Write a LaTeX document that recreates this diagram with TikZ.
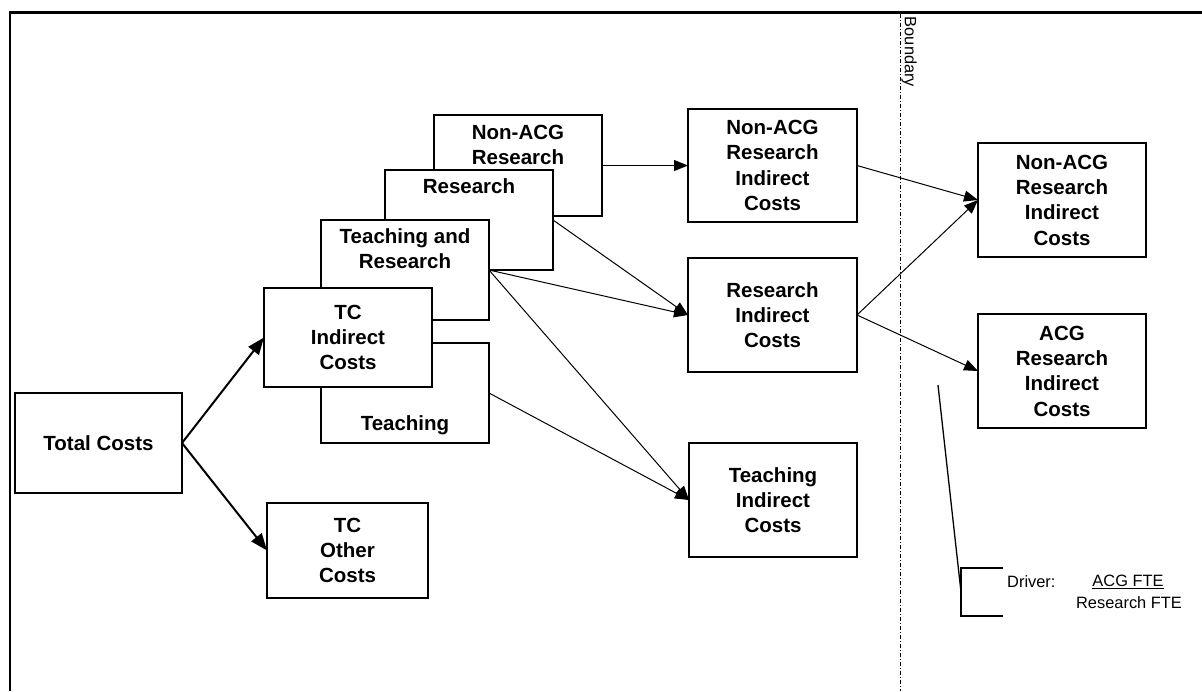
\documentclass[tikz,border=0pt]{standalone}
\usepackage{fontspec}
\setmainfont{Liberation Sans}
\usetikzlibrary{arrows.meta}
\newcommand{\boxfont}{\fontsize{20.5}{25.3}\selectfont\bfseries}
\newcommand{\notefont}{\fontsize{16.4}{20}\selectfont}
\begin{document}
\begin{tikzpicture}[x=1pt,y=-1pt,
  box/.style={draw, line width=2pt, fill=white, inner sep=0pt, outer sep=0pt, align=center, font=\boxfont},
  lbl/.style={inner sep=0pt, align=center, font=\boxfont},
  bigarrow/.style={line width=2pt, -{Triangle[length=17pt,width=13pt]}},
  thinarrow/.style={line width=1pt, -{Triangle[length=14pt,width=11pt]}},
  note/.style={inner sep=0pt, font=\notefont},
  frameline/.style={line width=2.5pt},
  boundaryline/.style={line width=0.8pt, dash pattern=on 4pt off 2pt on 1pt off 2pt},
  callout/.style={line width=1.3pt}]
\useasboundingbox (0,0) rectangle (1202,691);

% frame
\coordinate (fbl) at (10,691);
\coordinate (ftl) at (10,12.5);
\coordinate (ftr) at (1202,12.5);
\draw[frameline] (fbl) -- (ftl) -- (ftr);

% boundary
\coordinate (bt) at (900,14);
\coordinate (bb) at (900,691);
\draw[boundaryline] (bt) -- (bb);
\node[note, rotate=-90] (blabel) at (909,52) {Boundary};

% left column
\node[box, minimum width=167pt, minimum height=100pt] (total) at (98.5,443) {Total Costs};
\node[box, minimum width=161pt, minimum height=95pt] (tcother) at (347.5,550.5) {TC\\Other\\Costs};

% stacked boxes (back to front)
\node[box, minimum width=168pt, minimum height=101pt] (snonacg) at (518,165.5) {};
\node[lbl] (snonacgt) at (518,145) {Non-ACG\\Research};
\node[box, minimum width=168pt, minimum height=100pt] (sres) at (469,220) {};
\node[lbl] (srest) at (469,186) {Research};
\node[box, minimum width=168pt, minimum height=100pt] (str) at (405,270) {};
\node[lbl] (strt) at (405,249) {Teaching and\\Research};
\node[box, minimum width=168pt, minimum height=100pt] (steach) at (405,393) {};
\node[lbl] (steacht) at (405,425) {Teaching};
\node[box, minimum width=168pt, minimum height=99pt] (tcind) at (348,337.5) {TC\\Indirect\\Costs};

% middle column
\node[box, minimum width=169pt, minimum height=113pt] (mnon) at (772.5,165.5) {Non-ACG\\Research\\Indirect\\Costs};
\node[box, minimum width=169pt, minimum height=114pt] (mres) at (772.5,315) {Research\\Indirect\\Costs};
\node[box, minimum width=168pt, minimum height=114pt] (mteach) at (773,500) {Teaching\\Indirect\\Costs};

% right column
\node[box, minimum width=168pt, minimum height=114pt] (rnon) at (1062,200) {Non-ACG\\Research\\Indirect\\Costs};
\node[box, minimum width=168pt, minimum height=114pt] (racg) at (1062,371) {ACG\\Research\\Indirect\\Costs};

% connectors
\draw[bigarrow] (total.east) -- (tcind.west);
\draw[bigarrow] (total.east) -- (tcother.west);
\draw[thinarrow] (snonacg.east) -- (mnon.west);
\draw[thinarrow] (sres.east) -- (mres.west);
\draw[thinarrow] (str.east) -- (mres.west);
\draw[thinarrow] (str.east) -- (mteach.west);
\draw[thinarrow] (steach.east) -- (mteach.west);
\draw[thinarrow] (mnon.east) -- (rnon.west);
\draw[thinarrow] (mres.east) -- (rnon.west);
\draw[thinarrow] (mres.east) -- (racg.west);

% driver callout
\coordinate (c1) at (938,385);
\coordinate (c2) at (961,592);
\coordinate (k1) at (1003,568);
\coordinate (k2) at (961,568);
\coordinate (k3) at (961,616);
\coordinate (k4) at (1003,616);
\draw[callout] (c1) -- (c2);
\draw[callout] (k1) -- (k2) -- (k3) -- (k4);
\node[note, anchor=west] (drv) at (1007,582) {Driver:};
\node[note] (acgfte) at (1128,582) {\underline{ACG FTE}};
\node[note] (resfte) at (1129,603) {Research FTE};
\end{tikzpicture}
\end{document}
